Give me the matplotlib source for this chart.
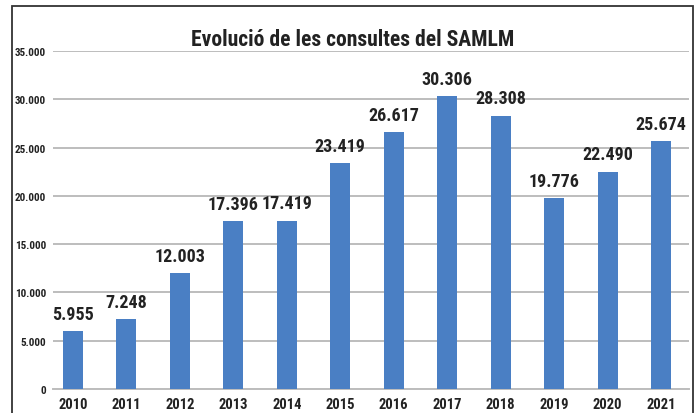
import matplotlib
matplotlib.use("Agg")
import matplotlib.pyplot as plt
from matplotlib.patches import Rectangle

years = ["2010", "2011", "2012", "2013", "2014", "2015", "2016", "2017", "2018", "2019", "2020", "2021"]
consultes = [5955, 7248, 12003, 17396, 17419, 23419, 26617, 30306, 28308, 19776, 22490, 25674]
yticks = [0, 5000, 10000, 15000, 20000, 25000, 30000, 35000]
title = "Evolució de les consultes del SAMLM"

def fmt(v):
    return f"{v:,}".replace(",", ".")

plt.rcParams['font.family'] = ['Roboto Condensed', 'DejaVu Sans']
plt.rcParams['font.weight'] = 'bold'

W, H = 699, 414
fig = plt.figure(figsize=(W / 100, H / 100), dpi=100)
ax = fig.add_axes([53 / W, 1 - 390 / H, (689 - 53) / W, (390 - 52) / H])

x = list(range(len(years)))
ax.bar(x, consultes, width=0.374, color="#4a7fc4", zorder=3)

ax.set_xlim(-0.374, 11.524)
ax.set_ylim(0, 35000)
ax.set_yticks(yticks)
ax.set_yticklabels([fmt(v) for v in yticks], fontsize=8, color="#222222", fontweight='bold')
ax.set_xticks(x)
ax.set_xticklabels(years, fontsize=10.5, color="#222222", fontweight='bold')
ax.tick_params(axis='y', length=0, pad=5)
ax.tick_params(axis='x', length=0, pad=6)
ax.grid(axis='y', color="#bdbdbd", linewidth=1.4, zorder=0)
for s in ["top", "right", "left"]:
    ax.spines[s].set_visible(False)
ax.spines["bottom"].set_color("#bdbdbd")
ax.spines["bottom"].set_linewidth(1.4)

for xi, v in zip(x, consultes):
    ax.annotate(fmt(v), (xi, v), xytext=(0, 6), textcoords="offset points",
                ha="center", va="bottom", fontsize=13, color="#222222", fontweight='bold')

fig.text(353 / W, 1 - 40 / H, title, ha="center", va="center", fontsize=15.6,
         color="#222222", fontweight='bold')

fig.patches.append(Rectangle((12 / W, -0.05), (693 - 12) / W, 1.05 - 7 / H,
                             transform=fig.transFigure, fill=False,
                             edgecolor="#333333", linewidth=1.3))

fig.savefig("out.png", dpi=100)
